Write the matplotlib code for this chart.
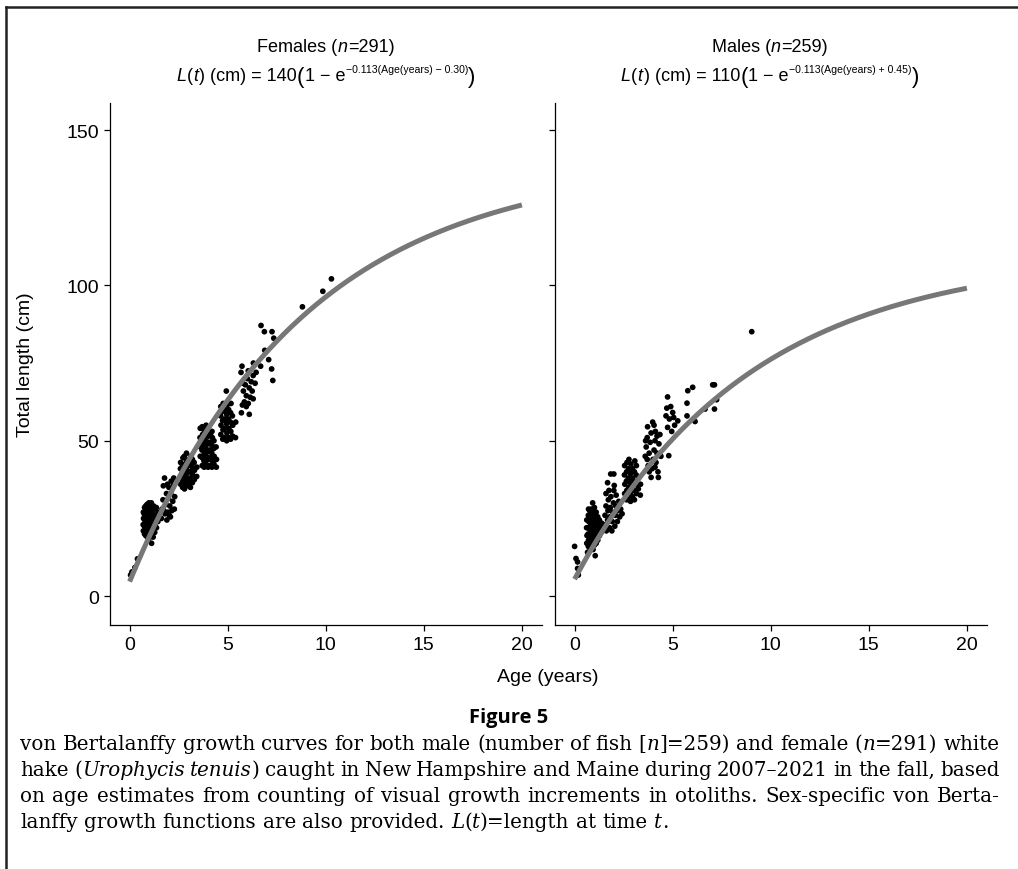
import numpy as np
import matplotlib
matplotlib.use("Agg")
import matplotlib.pyplot as plt
from matplotlib.lines import Line2D

# ---------------- data ----------------
# von Bertalanffy parameters (curve as plotted)
fem_Linf, fem_k, fem_t0 = 140.0, 0.113, -0.30
mal_Linf, mal_k, mal_t0 = 110.0, 0.113, -0.45
curve_age_max = 20.0

# Females
fA_age = [0.05, 0.12, 0.27, 0.40]
fA_len = [6.8, 7.8, 9.2, 12.0]
fB_age = [0.70, 0.69, 0.71, 0.70,
          0.76, 0.75, 0.77, 0.74, 0.76,
          0.82, 0.83, 0.81, 0.82, 0.84, 0.82,
          0.90, 0.89, 0.91, 0.90, 0.92, 0.89,
          0.98, 0.97, 0.99, 0.98, 0.96, 0.99, 0.98,
          1.05, 1.06, 1.04, 1.05, 1.07, 1.05,
          1.12, 1.13, 1.11, 1.12, 1.14, 1.12, 1.11,
          1.20, 1.21, 1.19, 1.20, 1.22,
          1.28, 1.29, 1.27, 1.28,
          1.37, 1.38, 1.36,
          1.44, 1.45]
fB_len = [21.0, 23.0, 25.0, 27.0,
          20.0, 22.5, 24.5, 26.5, 28.5,
          19.5, 21.5, 23.5, 25.5, 27.5, 29.0,
          19.0, 21.0, 23.0, 25.0, 27.0, 29.5,
          18.5, 20.5, 22.5, 24.5, 26.5, 28.5, 30.0,
          19.5, 21.5, 23.5, 25.5, 27.5, 29.5,
          17.0, 20.0, 22.0, 24.0, 26.0, 28.0, 30.0,
          19.0, 21.5, 24.0, 26.5, 29.0,
          20.5, 23.0, 25.5, 28.0,
          22.0, 25.5, 28.5,
          24.0, 27.0]
fC_age = [1.62, 1.65, 1.70, 1.72, 1.78, 1.80, 1.85, 1.88, 1.90, 1.95, 1.98, 2.00, 2.05,
          2.08, 2.10, 2.12, 2.15, 2.20, 2.22, 2.25, 2.28, 2.30, 1.75, 2.02, 1.93]
fC_len = [25.0, 28.0, 31.0, 35.5, 38.0, 26.5, 29.5, 33.0, 24.5, 27.0, 31.5, 35.0, 29.0,
          25.5, 33.0, 37.0, 27.5, 30.5, 35.5, 38.0, 28.0, 32.0, 27.5, 26.0, 36.0]
fD_age = [2.60, 2.61, 2.59, 2.60,
          2.70, 2.71, 2.69, 2.70, 2.72,
          2.80, 2.79, 2.81, 2.80, 2.82, 2.79,
          2.90, 2.91, 2.89, 2.90, 2.92, 2.90,
          3.00, 3.01, 2.99, 3.00, 3.02,
          3.10, 3.11, 3.09, 3.10, 3.12,
          3.20, 3.21, 3.19, 3.20,
          3.30, 3.31, 3.29,
          3.42, 3.43]
fD_len = [36.0, 38.5, 41.0, 43.0,
          35.0, 37.0, 39.5, 42.0, 44.5,
          34.5, 36.5, 38.5, 40.5, 42.5, 45.0,
          35.5, 37.5, 39.5, 41.5, 43.5, 46.0,
          36.0, 38.0, 40.0, 42.0, 44.0,
          35.0, 37.5, 40.0, 42.5, 45.0,
          36.5, 39.0, 41.5, 44.0,
          37.5, 40.5, 43.0,
          38.5, 41.5]
fE_age = [3.60, 3.61, 3.59, 3.60,
          3.70, 3.71, 3.69, 3.70, 3.72, 3.70,
          3.80, 3.79, 3.81, 3.80, 3.82, 3.79,
          3.90, 3.91, 3.89, 3.90, 3.92, 3.90,
          4.00, 4.01, 3.99, 4.00, 4.02, 4.00,
          4.10, 4.11, 4.09, 4.10, 4.12,
          4.20, 4.21, 4.19, 4.20, 4.22, 4.20,
          4.30, 4.31, 4.29, 4.30,
          4.42, 4.43, 4.41]
fE_len = [45.0, 48.0, 51.0, 54.0,
          42.0, 44.5, 47.0, 49.5, 52.0, 54.5,
          41.5, 43.5, 46.0, 48.5, 51.0, 53.5,
          42.5, 45.0, 47.5, 50.0, 52.5, 55.0,
          41.5, 44.0, 46.5, 49.0, 51.5, 54.0,
          42.0, 44.5, 47.0, 49.5, 52.0,
          41.5, 43.5, 46.0, 48.5, 51.0, 53.0,
          42.5, 45.0, 47.5, 50.0,
          41.5, 44.0, 48.0]
fF_age = [4.65, 4.66, 4.64, 4.65,
          4.75, 4.76, 4.74, 4.75, 4.77,
          4.85, 4.86, 4.84, 4.85,
          4.95, 4.96, 4.94, 4.95, 4.97, 4.93,
          5.05, 5.06, 5.04, 5.05,
          5.15, 5.16, 5.14, 5.15, 5.17,
          5.25, 5.26, 5.24,
          5.40, 5.41]
fF_len = [52.0, 55.0, 58.0, 61.0,
          50.5, 53.5, 56.5, 59.5, 62.0,
          51.0, 54.0, 57.0, 60.0,
          50.0, 52.5, 55.5, 58.5, 61.5, 66.0,
          51.0, 54.0, 57.0, 60.0,
          50.5, 53.0, 56.0, 59.0, 62.0,
          51.5, 55.0, 58.0,
          51.0, 56.0]
fG_age = [5.68, 5.73, 5.70, 5.75, 5.85, 5.95, 6.05, 5.80, 5.90, 6.00, 6.10, 6.20,
          6.30, 6.31, 6.15, 6.25, 6.40, 5.78, 6.05, 5.95, 6.30, 6.45, 6.10]
fG_len = [72.0, 74.0, 59.0, 61.5, 62.5, 61.0, 62.0, 66.0, 68.0, 70.0, 67.0, 69.0,
          71.0, 75.0, 64.0, 66.0, 68.5, 68.5, 72.5, 64.5, 63.5, 72.0, 58.5]
fH_age = [6.70, 6.87, 7.26, 7.35, 6.89, 7.09, 6.68, 7.24, 7.30]
fH_len = [87.1, 85.1, 85.1, 83.0, 79.1, 76.1, 74.0, 73.1, 69.4]
fI_age = [8.81, 9.85, 10.29]
fI_len = [93.1, 98.1, 102.1]

# Males
mA_age = [0.00, 0.07, 0.15, 0.15, 0.19, 0.66, 1.05]
mA_len = [16.0, 12.1, 11.0, 8.9, 6.8, 14.1, 13.0]
mB_age = [0.62, 0.63, 0.61, 0.62,
          0.70, 0.71, 0.69, 0.70, 0.72, 0.70, 0.71,
          0.78, 0.79, 0.77, 0.78, 0.80, 0.78, 0.77,
          0.86, 0.87, 0.85, 0.86, 0.88, 0.86, 0.85, 0.92,
          0.94, 0.95, 0.93, 0.94, 0.96, 0.94, 0.93,
          1.02, 1.03, 1.01, 1.02, 1.04, 1.02, 1.01,
          1.10, 1.11, 1.09, 1.10, 1.12, 1.10,
          1.18, 1.19, 1.17, 1.18,
          1.27, 1.28, 1.26,
          1.36, 1.37]
mB_len = [17.0, 19.5, 22.0, 24.5,
          16.0, 18.0, 20.0, 22.0, 24.0, 26.0, 28.0,
          15.5, 17.5, 19.5, 21.5, 23.5, 25.5, 27.5,
          16.0, 18.0, 20.0, 22.0, 24.0, 26.0, 28.0, 30.0,
          15.0, 17.0, 19.0, 21.0, 23.0, 25.0, 27.0,
          16.5, 18.5, 20.5, 22.5, 24.5, 26.5, 28.5,
          17.0, 19.0, 21.0, 23.0, 25.0, 27.0,
          18.0, 20.5, 23.0, 25.5,
          19.5, 22.0, 24.5,
          20.5, 23.5]
mC_age = [1.50, 1.55, 1.60, 1.62, 1.68, 1.70, 1.72, 1.68, 1.78, 1.80, 1.82, 1.85, 1.84,
          1.90, 1.92, 1.95, 1.98, 2.00, 2.00, 2.02, 2.05, 2.08, 2.10, 2.12, 2.18, 2.20,
          2.25, 2.30, 2.35, 2.42, 1.75, 1.60]
mC_len = [23.0, 26.0, 29.0, 21.0, 24.5, 27.5, 31.0, 36.5, 22.0, 25.5, 28.5, 32.0, 39.3,
          21.0, 24.0, 27.0, 30.0, 34.0, 39.3, 35.6, 22.5, 26.0, 29.0, 32.5, 24.0, 27.5,
          30.5, 25.5, 28.0, 26.5, 34.0, 33.0]
mD_age = [2.55, 2.56, 2.54, 2.55,
          2.65, 2.66, 2.64, 2.65, 2.67,
          2.75, 2.76, 2.74, 2.75, 2.77,
          2.85, 2.86, 2.84, 2.85, 2.87,
          2.95, 2.96, 2.94, 2.95,
          3.05, 3.06, 3.04, 3.05, 3.07,
          3.15, 3.16, 3.14, 3.15,
          3.25, 3.26,
          3.35, 3.36]
mD_len = [33.0, 36.0, 39.0, 42.0,
          31.0, 34.0, 37.0, 40.0, 43.0,
          32.0, 35.0, 38.0, 41.0, 44.0,
          30.5, 33.5, 36.5, 39.5, 42.5,
          32.0, 35.0, 38.0, 41.0,
          31.0, 34.0, 37.0, 40.0, 43.5,
          33.0, 36.0, 39.0, 42.0,
          34.5, 38.0,
          32.5, 36.0]
mE_age = [3.60, 3.65, 3.70, 3.72, 3.75, 3.80, 3.85, 3.90, 3.90, 3.95, 4.00, 4.05, 4.10,
          4.12, 4.15, 4.20, 4.25, 4.27, 4.30, 4.35, 3.62, 4.05, 3.80, 4.20, 3.70, 3.98,
          4.40, 4.10]
mE_len = [45.0, 48.0, 51.0, 54.5, 42.0, 46.0, 49.5, 52.5, 38.2, 41.0, 44.0, 47.0, 50.0,
          53.0, 43.0, 46.0, 40.0, 38.2, 49.0, 52.0, 50.0, 55.0, 40.0, 51.5, 44.0, 56.0,
          45.0, 41.5]
mF_age = [4.74, 4.66, 4.83, 5.00, 5.05, 5.26, 4.74, 4.80, 4.70, 4.90, 5.10, 4.95]
mF_len = [64.1, 58.0, 57.0, 59.1, 57.5, 56.4, 54.3, 45.2, 60.5, 61.0, 55.0, 53.0]
mG_age = [5.77, 6.02, 5.73, 5.73, 6.14]
mG_len = [66.1, 67.2, 62.1, 58.0, 56.2]
mH_age = [7.04, 7.13, 7.24, 6.65, 7.13]
mH_len = [68.0, 68.0, 63.2, 60.2, 60.2]
mI_age = [9.03]
mI_len = [85.1]

x_ticks = [0, 5, 10, 15, 20]
y_ticks = [0, 50, 100, 150]

female_title = ("Females (", "n", "=291)")
male_title = ("Males (", "n", "=259)")
female_eq = ("140", "\u22120.113(Age(years) \u2212 0.30)")
male_eq = ("110", "\u22120.113(Age(years) + 0.45)")
x_label = "Age (years)"
y_label = "Total length (cm)"
fig_label = "Figure 5"
caption_lines = [
    "von Bertalanffy growth curves for both male (number of fish [*n*]=259) and female (*n*=291) white",
    "hake (*Urophycis* *tenuis*) caught in New Hampshire and Maine during 2007\u20132021 in the fall, based",
    "on age estimates from counting of visual growth increments in otoliths. Sex-specific von Berta-",
    "lanffy growth functions are also provided. *L*(*t*)=length at time *t*.",
]

# ---------------- style ----------------
plt.rcParams['font.family'] = ['Liberation Sans', 'DejaVu Sans']
title_family = ['Liberation Sans', 'DejaVu Sans']

W, H = 1018, 870
fig = plt.figure(figsize=(W / 100, H / 100), dpi=100)
fig.patch.set_facecolor('white')
renderer = fig.canvas.get_renderer()

def fx(px):
    return px / W

def fy(py):
    return 1 - py / H

ax_top, ax_bot = 104, 626
ax_w = 431.5
axL = fig.add_axes([fx(110), fy(ax_bot), ax_w / W, (ax_bot - ax_top) / H])
axR = fig.add_axes([fx(555), fy(ax_bot), ax_w / W, (ax_bot - ax_top) / H])

fem_age = fA_age + fB_age + fC_age + fD_age + fE_age + fF_age + fG_age + fH_age + fI_age
fem_len = fA_len + fB_len + fC_len + fD_len + fE_len + fF_len + fG_len + fH_len + fI_len
mal_age = mA_age + mB_age + mC_age + mD_age + mE_age + mF_age + mG_age + mH_age + mI_age
mal_len = mA_len + mB_len + mC_len + mD_len + mE_len + mF_len + mG_len + mH_len + mI_len

t = np.linspace(0, curve_age_max, 300)
curves = [
    fem_Linf * (1 - np.exp(-fem_k * (t - fem_t0))),
    mal_Linf * (1 - np.exp(-mal_k * (t - mal_t0))),
]

for ax, ages, lens, curve, show_y in [(axL, fem_age, fem_len, curves[0], True),
                                      (axR, mal_age, mal_len, curves[1], False)]:
    ax.scatter(ages, lens, s=17, c='black', edgecolors='none', zorder=2)
    ax.plot(t, curve, color='#777777', lw=3.6, solid_capstyle='butt', zorder=3)
    ax.set_xlim(-1, 21)
    ax.set_ylim(-9.3, 158.7)
    ax.set_xticks(x_ticks)
    ax.set_yticks(y_ticks)
    for s in ['top', 'right']:
        ax.spines[s].set_visible(False)
    for s in ['left', 'bottom']:
        ax.spines[s].set_linewidth(0.9)
        ax.spines[s].set_color('black')
    ax.tick_params(axis='both', direction='out', length=4, width=0.9, color='black',
                   labelsize=14, labelcolor='black', pad=4)
    if not show_y:
        ax.set_yticklabels([])
    ax.set_facecolor('white')


def measure(s, **kw):
    tt = fig.text(0, 0, s, **kw)
    w = tt.get_window_extent(renderer).width
    tt.remove()
    return w


def draw_runs(cx, yb, runs, family):
    """runs: list of (text, size, italic, dy_px, gap_before_px); centered at cx."""
    widths = [measure(r[0], fontsize=r[1], family=family,
                      style='italic' if r[2] else 'normal') for r in runs]
    total = sum(widths) + sum(r[4] for r in runs)
    x = cx - total / 2
    for r, w in zip(runs, widths):
        x += r[4]
        fig.text(fx(x), fy(yb - r[3]), r[0], fontsize=r[1], family=family,
                 style='italic' if r[2] else 'normal', ha='left', va='baseline')
        x += w


S = 13.0
SS = 7.6
SP = 16.0
for cx, (ta, tn, tb), (linf, expo) in [(326, female_title, female_eq),
                                       (770, male_title, male_eq)]:
    draw_runs(cx, 52, [(ta, S, False, 0, 0), (tn, S, True, 0, 0), (tb, S, False, 0, 0.5)],
              title_family)
    runs = [("L", S, True, 0, 0), ("(", S, False, 0, 0.5), ("t", S, True, 0, 0),
            (") (cm) = " + linf, S, False, 0, 1.5),
            ("(", SP, False, -1.5, 0),
            ("1 \u2212 e", S, False, 0, 0),
            (expo, SS, False, 8, 0.5),
            (")", SP, False, -1.5, 0.5)]
    draw_runs(cx, 81, runs, title_family)

fig.text(fx(548), fy(677), x_label, ha='center', va='center', fontsize=14)
fig.text(fx(26), fy(365), y_label, ha='center', va='center', rotation=90, fontsize=14)

fig.text(fx(509), fy(718), fig_label, ha='center', va='center', fontsize=14.5,
         family=['Open Sans', 'DejaVu Sans'], weight='bold')

# frame lines
fig.add_artist(Line2D([fx(6), 1], [fy(8), fy(8)], transform=fig.transFigure,
                      color='#222222', lw=1.8))
fig.add_artist(Line2D([fx(6), fx(6)], [fy(8), 0], transform=fig.transFigure,
                      color='#222222', lw=1.8))

# caption, justified
cap_family = ['DejaVu Serif']

def parse_words(line):
    words = []
    for w in line.split(' '):
        parts = w.split('*')
        runs = []
        for i, p in enumerate(parts):
            if p:
                runs.append((p, i % 2 == 1))
        words.append(runs)
    return words

def text_width(s, italic, size):
    return measure(s, fontsize=size, family=cap_family, style='italic' if italic else 'normal')

def natural_space(size):
    return text_width("a a", False, size) - text_width("aa", False, size)

def line_nat_width(words, size):
    tot = sum(text_width(r[0], r[1], size) for w in words for r in w)
    return tot + natural_space(size) * (len(words) - 1)

x_left, x_right = 20, 1000
cap_size = 12.0
cap_size = cap_size * 972 / line_nat_width(parse_words(caption_lines[0]), cap_size)

baselines = [750, 776, 802, 828]
for li, (line, yb) in enumerate(zip(caption_lines, baselines)):
    words = parse_words(line)
    widths = [[text_width(r[0], r[1], cap_size) for r in w] for w in words]
    total = sum(sum(ws) for ws in widths)
    if li < len(caption_lines) - 1:
        gap = (x_right - x_left - total) / (len(words) - 1)
    else:
        gap = natural_space(cap_size)
    x = x_left
    for w, ws in zip(words, widths):
        for (txt, it), wd in zip(w, ws):
            fig.text(fx(x), fy(yb), txt, fontsize=cap_size, family=cap_family,
                     style='italic' if it else 'normal', ha='left', va='baseline')
            x += wd
        x += gap

fig.savefig("out.png", dpi=100, facecolor='white')
